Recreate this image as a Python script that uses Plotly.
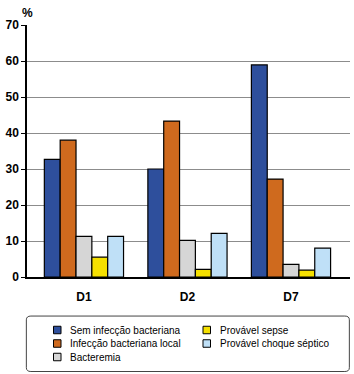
import plotly.graph_objects as go

categories = ["D1", "D2", "D7"]
series_names = [
    "Sem infecção bacteriana",
    "Infecção bacteriana local",
    "Bacteremia",
    "Provável sepse",
    "Provável choque séptico",
]
values = [
    [32.7, 30.0, 58.9],
    [38.0, 43.3, 27.2],
    [11.3, 10.2, 3.5],
    [5.5, 2.1, 1.9],
    [11.3, 12.1, 8.0],
]
colors = ["#2e4f9c", "#cf6a1e", "#d6d6d6", "#f5e000", "#bfe0f7"]
y_ticks = [0, 10, 20, 30, 40, 50, 60, 70]

FONT = "Liberation Sans, Arial, sans-serif"

W, H = 354, 374
ML, MR, MT, MB = 27, 4, 25, 97
PW, PH = W - ML - MR, H - MT - MB


def px_x(x):
    return (x - ML) / PW


def px_y(y):
    return (H - MB - y) / PH


fig = go.Figure()
for name, vals, col in zip(series_names, values, colors):
    fig.add_trace(go.Bar(
        x=categories, y=vals, name=name,
        marker=dict(color=col, line=dict(color="black", width=1.2)),
        showlegend=False,
    ))

# custom legend (column-major, 3 rows)
shapes = [dict(
    type="path", xref="paper", yref="paper", layer="above",
    path="M 0.012 -0.155 L 0.984 -0.155 Q 0.998 -0.155 0.998 -0.17 L 0.998 -0.36 "
         "Q 0.998 -0.375 0.984 -0.375 L 0.012 -0.375 Q -0.002 -0.375 -0.002 -0.36 "
         "L -0.002 -0.17 Q -0.002 -0.155 0.012 -0.155 Z",
    line=dict(color="#444", width=1),
)]
annotations = [dict(
    text="%", xref="paper", yref="paper", x=px_x(27), y=px_y(13),
    xanchor="center", yanchor="middle", showarrow=False,
    font=dict(family=FONT, size=12, color="black", weight="bold"),
)]
col_x = [53.5, 203]
row_y = [330, 343.5, 357]
for i, (name, col) in enumerate(zip(series_names, colors)):
    c, r = divmod(i, 3)
    x0, yc = col_x[c], row_y[r]
    shapes.append(dict(
        type="rect", xref="paper", yref="paper",
        x0=px_x(x0), x1=px_x(x0 + 7.5), y0=px_y(yc + 3.75), y1=px_y(yc - 3.75),
        fillcolor=col, line=dict(color="black", width=1),
    ))
    annotations.append(dict(
        text=name, xref="paper", yref="paper", x=px_x(x0 + 14.5), y=px_y(yc),
        xanchor="left", yanchor="middle", showarrow=False,
        font=dict(family=FONT, size=10, color="black"),
    ))

fig.update_layout(
    width=W, height=H,
    margin=dict(l=ML, r=MR, t=MT, b=MB, autoexpand=False),
    paper_bgcolor="white", plot_bgcolor="white",
    barmode="group", bargap=0.235, bargroupgap=0,
    font=dict(family=FONT, color="black"),
    showlegend=False,
    xaxis=dict(
        range=[-0.55, 2.57], showline=True, linecolor="black", linewidth=1.5,
        ticks="", ticklabelstandoff=8,
        tickfont=dict(family=FONT, size=12, color="black", weight="bold"),
        showgrid=False, zeroline=False,
    ),
    yaxis=dict(
        range=[0, 70], tickvals=y_ticks, showline=True, linecolor="black",
        linewidth=1.5, ticks="outside", ticklen=4, tickcolor="black",
        tickfont=dict(family=FONT, size=12, color="black", weight="bold"),
        showgrid=True, gridcolor="#8c8c8c", gridwidth=1, zeroline=False,
    ),
    annotations=annotations,
    shapes=shapes,
)

fig.write_html("out.html")
